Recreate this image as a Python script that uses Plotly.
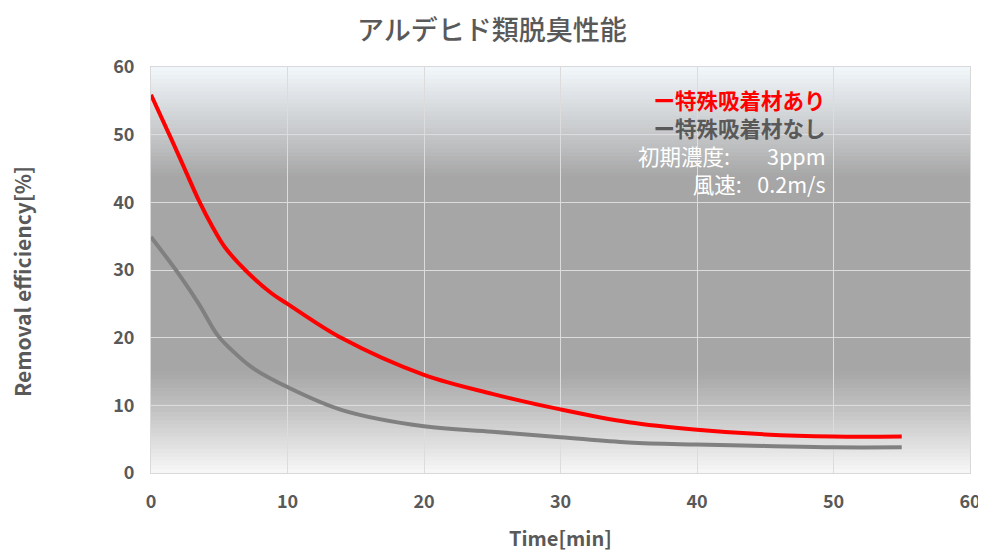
import plotly.graph_objects as go

# ---- data ----
red_x = [0, 1.5, 2.5, 3.5, 4.5, 5.4, 6.9, 8.8, 10, 14, 20, 25, 30, 35, 40, 45, 50, 55]
red_y = [55.9, 49.3, 44.8, 40.3, 36.4, 33.4, 30.0, 26.6, 25.0, 19.9, 14.5, 11.7, 9.4, 7.5, 6.4, 5.7, 5.4, 5.4]
gray_x = [0, 2, 3.5, 4.9, 5.9, 7.4, 10, 14, 20, 25, 30, 35, 40, 45, 50, 55]
gray_y = [34.9, 29.5, 25.0, 20.3, 18.2, 15.6, 12.7, 9.3, 6.9, 6.1, 5.3, 4.5, 4.2, 4.0, 3.8, 3.8]

title_text = "アルデヒド類脱臭性能"
legend_red = "ー特殊吸着材あり"
legend_gray = "ー特殊吸着材なし"
note1 = "初期濃度:\u3000\u2002 3ppm"
note2 = "風速:\u2002 0.2m/s"
x_title = "Time[min]"
y_title = "Removal efficiency[%]"

FONT = "Noto Sans CJK JP"
TXT = "#595959"

# page offset (default body margin of the html page)
OFF = 8
W, H = 986 - OFF, 551 - OFF
L, R, T, B = 151 - OFF, 16, 67 - OFF, 78
PW, PH = W - L - R, H - T - B

def px(xp):
    return (xp - OFF - L) / PW

def py(yp):
    return (H - B - (yp - OFF)) / PH

fig = go.Figure()
fig.add_trace(go.Scatter(x=gray_x, y=gray_y, mode="lines",
                         line=dict(color="#808080", width=4, shape="spline", smoothing=1.0),
                         showlegend=False, hoverinfo="skip"))
fig.add_trace(go.Scatter(x=red_x, y=red_y, mode="lines",
                         line=dict(color="#ff0000", width=4, shape="spline", smoothing=1.0),
                         showlegend=False, hoverinfo="skip"))

# ---- gradient background (style only) ----
stops = [(0.0, (248, 248, 248)), (0.15, (196, 196, 196)), (0.25, (166, 166, 166)),
         (0.73, (166, 166, 166)), (0.83, (196, 198, 200)), (1.0, (242, 247, 251))]

def col(f):
    for (a, ca), (b, cb) in zip(stops[:-1], stops[1:]):
        if a <= f <= b:
            t = (f - a) / (b - a) if b > a else 0
            c = [round(ca[i] + (cb[i] - ca[i]) * t) for i in range(3)]
            return "rgb(%d,%d,%d)" % tuple(c)
    return "rgb(166,166,166)"

N = 100
shapes = []
for i in range(N):
    y0 = i / N
    y1 = (i + 1) / N + 0.003
    shapes.append(dict(type="rect", xref="x domain", yref="y domain",
                       x0=0, x1=1, y0=y0, y1=min(y1, 1.0),
                       fillcolor=col((i + 0.5) / N), line=dict(width=0), layer="below"))

legend_html = (
    "<span style='color:#ff0000'><b>%s</b></span><br>"
    "<span style='color:#595959'><b>%s</b></span><br>"
    "<span style='color:#ffffff'>%s</span><br>"
    "<span style='color:#ffffff'>%s</span>"
) % (legend_red, legend_gray, note1, note2)

annos = [
    dict(text=legend_html, xref="x", yref="y", x=49.6, y=49.0, xanchor="right", yanchor="middle",
         align="right", showarrow=False, font=dict(family=FONT, size=21.5, color="#ffffff")),
    dict(text=title_text, xref="paper", yref="paper", x=px(492), y=py(28.5),
         xanchor="center", yanchor="middle", showarrow=False,
         font=dict(family=FONT, size=27, color=TXT, weight=500)),
    dict(text="<b>%s</b>" % x_title, xref="paper", yref="paper", x=0.5, y=py(537),
         xanchor="center", yanchor="middle", showarrow=False,
         font=dict(family=FONT, size=20, color=TXT)),
    dict(text="<b>%s</b>" % y_title, xref="paper", yref="paper", x=px(22), y=py(282),
         xanchor="center", yanchor="middle", showarrow=False, textangle=-90,
         font=dict(family=FONT, size=21, color=TXT)),
]

fig.update_layout(
    width=W, height=H,
    margin=dict(l=L, r=R, t=T, b=B),
    paper_bgcolor="white",
    plot_bgcolor="#a6a6a6",
    font=dict(family=FONT, color=TXT),
    shapes=shapes,
    annotations=annos,
    xaxis=dict(range=[0, 60], dtick=10, showgrid=True, gridcolor="#dcdcdc", gridwidth=1,
               showline=True, linecolor="#d9d9d9", mirror=True, zeroline=False,
               ticks="", ticklabelstandoff=12, automargin=False,
               tickfont=dict(family=FONT, size=18, color=TXT, weight="bold")),
    yaxis=dict(range=[0, 60], dtick=10, showgrid=True, gridcolor="#dcdcdc", gridwidth=1,
               showline=True, linecolor="#d9d9d9", mirror=True, zeroline=False,
               ticks="", ticklabelstandoff=12, automargin=False,
               tickfont=dict(family=FONT, size=18, color=TXT, weight="bold")),
)

fig.write_html("out.html")
